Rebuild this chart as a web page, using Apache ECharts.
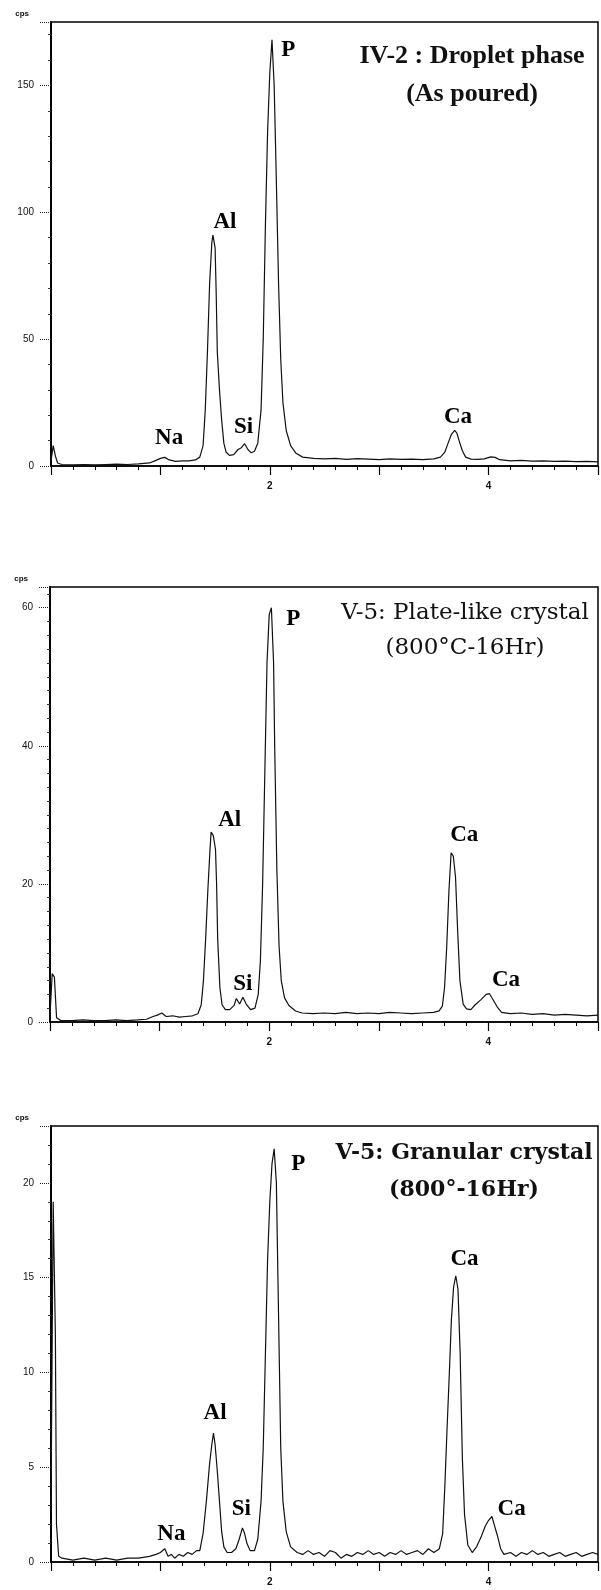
<!DOCTYPE html>
<html>
<head>
<meta charset="utf-8">
<script src="https://cdn.jsdelivr.net/npm/echarts@6/dist/echarts.min.js"></script>
<style>
  html, body { margin: 0; padding: 0; background: #fff; }
  #chart { width: 601px; height: 1590px; }
</style>
</head>
<body>
<div id="chart"></div>
<script>
// EDS spectra: energy (keV) against counts per second, three specimens.

// IV-2 droplet phase, as poured
const energy1 = [0.00,0.02,0.04,0.06,0.10,0.20,0.30,0.40,0.50,0.60,0.70,0.80,0.90,0.96,1.00,1.04,1.08,1.14,1.20,1.26,1.32,1.36,1.39,1.41,1.43,1.45,1.47,1.48,1.50,1.51,1.52,1.54,1.56,1.58,1.60,1.63,1.67,1.71,1.74,1.77,1.80,1.83,1.86,1.89,1.92,1.94,1.96,1.98,2.00,2.02,2.04,2.06,2.08,2.10,2.12,2.15,2.19,2.24,2.30,2.40,2.50,2.60,2.70,2.80,2.90,3.00,3.10,3.20,3.30,3.40,3.50,3.56,3.60,3.63,3.66,3.69,3.71,3.73,3.76,3.79,3.84,3.90,3.96,4.02,4.06,4.10,4.20,4.30,4.40,4.50,4.60,4.70,4.80,4.90,5.00];
const counts1 = [2,8,4,1.2,0.6,0.5,0.6,0.5,0.6,0.7,0.6,0.8,1.2,2.2,3.0,3.4,2.4,1.8,2.0,2.0,2.4,3.5,8,22,45,72,88,91,86,68,45,30,18,9,5.5,4.2,4.5,6.5,7.2,8.8,6.5,5.2,5.8,9,22,50,95,132,155,168,150,112,72,42,25,14,8,5,3.5,3.0,2.8,3.0,2.6,2.9,2.7,2.5,2.8,2.6,2.7,2.5,2.8,3.5,5.5,9,12.5,14,13,10,6,3.5,2.7,2.6,2.8,3.6,3.4,2.5,2.0,2.2,1.9,2.0,1.8,1.9,1.7,1.8,1.6];

// V-5 plate-like crystal, 800°C 16 h
const energy2 = [0.00,0.02,0.04,0.06,0.10,0.20,0.30,0.40,0.50,0.60,0.70,0.80,0.88,0.94,0.98,1.02,1.06,1.12,1.18,1.24,1.30,1.35,1.38,1.40,1.42,1.44,1.46,1.47,1.49,1.51,1.52,1.53,1.55,1.57,1.60,1.64,1.68,1.70,1.73,1.76,1.79,1.83,1.87,1.90,1.92,1.94,1.96,1.98,2.00,2.02,2.04,2.05,2.07,2.09,2.11,2.14,2.18,2.24,2.30,2.40,2.50,2.60,2.70,2.80,2.90,3.00,3.10,3.20,3.30,3.40,3.50,3.55,3.58,3.60,3.62,3.64,3.66,3.68,3.70,3.72,3.74,3.77,3.80,3.84,3.88,3.93,3.98,4.01,4.04,4.08,4.12,4.20,4.30,4.40,4.50,4.60,4.70,4.80,4.90,5.00];
const counts2 = [1,7,6.5,0.6,0.2,0.2,0.3,0.2,0.2,0.3,0.2,0.3,0.4,0.8,1.0,1.3,0.8,0.9,0.7,0.8,0.9,1.2,2.5,6,12,19,25,27.5,27,25,20,12,5,2.5,1.8,1.8,2.4,3.4,2.6,3.6,2.6,1.8,2.0,4,9,20,36,52,59,60,52,40,22,11,6,3.5,2.4,1.6,1.3,1.2,1.3,1.2,1.4,1.2,1.3,1.2,1.4,1.3,1.2,1.3,1.4,1.6,2.3,5,11,19,24.5,24,21,13,6,2.6,1.9,1.8,2.5,3.2,4.0,4.1,3.3,2.2,1.4,1.2,1.3,1.1,1.2,1.0,1.1,1.0,0.9,1.0];

// V-5 granular crystal, 800° 16 h
const energy3 = [0.00,0.02,0.04,0.05,0.07,0.10,0.20,0.30,0.40,0.50,0.60,0.70,0.80,0.90,0.96,1.00,1.04,1.07,1.10,1.13,1.17,1.21,1.25,1.29,1.33,1.36,1.39,1.42,1.45,1.47,1.485,1.50,1.52,1.54,1.56,1.58,1.61,1.65,1.69,1.72,1.75,1.77,1.79,1.82,1.86,1.89,1.92,1.94,1.96,1.98,2.00,2.02,2.04,2.06,2.08,2.10,2.12,2.15,2.19,2.25,2.30,2.35,2.40,2.45,2.50,2.55,2.60,2.65,2.70,2.75,2.80,2.85,2.90,2.95,3.00,3.05,3.10,3.15,3.20,3.25,3.30,3.35,3.40,3.45,3.50,3.55,3.58,3.60,3.62,3.64,3.66,3.68,3.70,3.72,3.74,3.76,3.78,3.81,3.85,3.89,3.93,3.97,4.00,4.03,4.05,4.08,4.11,4.14,4.20,4.25,4.30,4.35,4.40,4.45,4.50,4.55,4.60,4.65,4.70,4.75,4.80,4.85,4.90,4.95,5.00];
const counts3 = [3,19,12,2,0.3,0.2,0.1,0.2,0.1,0.2,0.1,0.2,0.2,0.3,0.4,0.5,0.7,0.3,0.4,0.2,0.4,0.3,0.5,0.4,0.6,0.6,1.5,3.2,5.2,6.2,6.8,6.2,4.8,3.2,1.6,0.8,0.5,0.5,0.7,1.2,1.8,1.5,1.0,0.6,0.6,1.2,3.2,6,11,16,19,21,21.8,20,13,6,3.2,1.6,0.8,0.5,0.4,0.6,0.4,0.5,0.3,0.6,0.5,0.2,0.4,0.3,0.5,0.4,0.6,0.4,0.5,0.3,0.5,0.4,0.6,0.4,0.5,0.6,0.4,0.7,0.5,0.7,1.5,4,7,9.8,12.8,14.5,15.1,14.4,11,5.5,2.5,0.9,0.5,0.8,1.3,1.9,2.2,2.4,2.0,1.4,0.7,0.4,0.5,0.3,0.5,0.4,0.6,0.4,0.5,0.3,0.4,0.5,0.3,0.4,0.5,0.3,0.4,0.5,0.4];

// Element lines marked on each spectrum (energy, counts at label anchor)
const peaks1 = [
  { name: 'Na', e: 1.08, c: 11 },
  { name: 'Al', e: 1.59, c: 96 },
  { name: 'Si', e: 1.76, c: 15.4 },
  { name: 'P',  e: 2.17, c: 164 },
  { name: 'Ca', e: 3.72, c: 19.3 }
];
const peaks2 = [
  { name: 'Al', e: 1.64, c: 29.3 },
  { name: 'Si', e: 1.76, c: 5.5 },
  { name: 'P',  e: 2.22, c: 58.3 },
  { name: 'Ca', e: 3.78, c: 27.1 },
  { name: 'Ca', e: 4.16, c: 6.1 }
];
const peaks3 = [
  { name: 'Na', e: 1.10, c: 1.5 },
  { name: 'Al', e: 1.50, c: 7.85 },
  { name: 'Si', e: 1.74, c: 2.8 },
  { name: 'P',  e: 2.26, c: 21.0 },
  { name: 'Ca', e: 3.78, c: 16.0 },
  { name: 'Ca', e: 4.21, c: 2.8 }
];

const titles = [
  ['IV-2 : Droplet phase', '(As poured)'],
  ['V-5: Plate-like crystal', '(800°C-16Hr)'],
  ['V-5: Granular crystal', '(800°-16Hr)']
];

const yMaxes = [175, 63, 23];
const yIntervals = [50, 20, 5];
const yMinorSplits = [5, 10, 5];
const xTickLabels = [2, 4];
const energyMax = 5;

// Page layout
const layout = [
  { left: 51, top: 22, height: 444 },
  { left: 50, top: 587, height: 435 },
  { left: 51, top: 1126, height: 436 }
];
const titleStyle = [
  { font: 'bold 26px "Liberation Serif"', x: 472, y1: 56, y2: 94 },
  { font: '23px "DejaVu Serif"', x: 465, y1: 613, y2: 648 },
  { font: 'bold 22px "DejaVu Serif"', x: 464, y1: 1153, y2: 1190 }
];

const energies = [energy1, energy2, energy3];
const counts = [counts1, counts2, counts3];
const peakSets = [peaks1, peaks2, peaks3];

const ink = '#111';
const grids = [], xAxes = [], yAxes = [], series = [], graphics = [];

layout.forEach((g, i) => {
  grids.push({
    left: g.left, top: g.top, height: g.height, right: -3,
    show: true, borderColor: '#000', borderWidth: 1.5, backgroundColor: 'transparent'
  });
  xAxes.push({
    gridIndex: i, type: 'value', min: 0, max: energyMax, interval: 1,
    axisLine: { lineStyle: { color: '#000', width: 1.5 } },
    axisTick: { length: 9, lineStyle: { color: '#000', width: 1.2 } },
    minorTick: { show: true, splitNumber: 5, length: 4, lineStyle: { color: '#000', width: 1 } },
    axisLabel: {
      margin: 15, fontSize: 10, fontWeight: 'bold', color: ink, fontFamily: 'Liberation Sans',
      formatter: v => (xTickLabels.indexOf(v) >= 0 ? String(v) : '')
    },
    splitLine: { show: false }
  });
  yAxes.push({
    gridIndex: i, type: 'value', min: 0, max: yMaxes[i], interval: yIntervals[i],
    name: 'cps', nameLocation: 'end', nameGap: 4,
    nameTextStyle: { fontSize: 8, fontWeight: 'bold', color: ink, align: 'right', padding: [0, 22, 0, 0], fontFamily: 'Liberation Sans' },
    axisLine: { lineStyle: { color: '#000', width: 2 } },
    axisTick: { length: 12, lineStyle: { color: '#222', width: 1, type: 'dotted' } },
    minorTick: { show: true, splitNumber: yMinorSplits[i], length: 3, lineStyle: { color: '#333', width: 1 } },
    axisLabel: { margin: 17, fontSize: 10, color: ink, fontFamily: 'Liberation Sans', showMaxLabel: false },
    splitLine: { show: false }
  });
  series.push({
    type: 'line', xAxisIndex: i, yAxisIndex: i,
    data: energies[i].map((e, k) => [e, counts[i][k]]),
    showSymbol: false, smooth: false,
    lineStyle: { color: ink, width: 1.2 },
    animation: false
  });
  series.push({
    type: 'scatter', xAxisIndex: i, yAxisIndex: i,
    symbolSize: 0, silent: true, animation: false,
    itemStyle: { opacity: 1 },
    data: peakSets[i].map(p => ({ name: p.name, value: [p.e, p.c] })),
    label: {
      show: true, position: 'inside', formatter: p => p.name, opacity: 1,
      fontFamily: 'Liberation Serif', fontWeight: 'bold', fontSize: 23, color: '#000'
    }
  });
  const t = titleStyle[i];
  titles[i].forEach((line, k) => {
    graphics.push({
      type: 'text', x: t.x, y: k === 0 ? t.y1 : t.y2, silent: true,
      style: { text: line, font: t.font, fill: ink, textAlign: 'center', textVerticalAlign: 'middle' }
    });
  });
});

const chart = echarts.init(document.getElementById('chart'), null, { renderer: 'canvas' });
chart.setOption({
  backgroundColor: '#fff',
  animation: false,
  grid: grids,
  xAxis: xAxes,
  yAxis: yAxes,
  series: series,
  graphic: graphics
});
</script>
</body>
</html>
